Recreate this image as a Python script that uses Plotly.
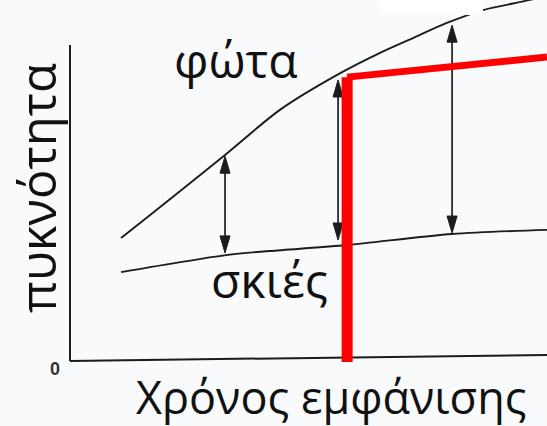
import plotly.graph_objects as go

# Conceptual data (time units 0..10, density units 0..10)
upper_t = [1.07, 1.68, 3.25, 4.40, 5.60, 6.50, 7.19, 7.90, 8.66, 9.64, 10.0]
upper_d = [3.87, 4.60, 6.51, 7.94, 9.05, 9.75, 10.22, 10.70, 11.11, 11.43, 11.59]
lower_t = [1.07, 3.27, 4.19, 5.81, 8.01, 10.0]
lower_d = [2.79, 3.33, 3.46, 3.65, 4.00, 4.13]
arrow_t = [3.25, 5.62, 8.01]
arrow_top = [6.47, 8.89, 10.63]
arrow_bottom = [3.40, 3.81, 4.03]
red_v_t = [5.81, 5.81]
red_v_d = [-0.06, 8.98]
red_h_t = [5.81, 10.0]
red_h_d = [8.98, 9.62]
axis_x_t = [0.0, 10.0]
axis_x_d = [-0.03, 0.16]
axis_y_t = [0.0, 0.0]
axis_y_d = [-0.03, 10.0]

W, H = 547, 426
ink = "#1c1c1c"
font = "Open Sans"
HEAD_LEN = 0.54   # density units
HEAD_HALF = 0.105  # time units

fig = go.Figure()
fig.add_trace(go.Scatter(x=axis_y_t, y=axis_y_d, mode="lines",
                         line=dict(color=ink, width=2), hoverinfo="skip"))
fig.add_trace(go.Scatter(x=axis_x_t, y=axis_x_d, mode="lines",
                         line=dict(color=ink, width=2), hoverinfo="skip"))
fig.add_trace(go.Scatter(x=upper_t, y=upper_d, mode="lines",
                         line=dict(color=ink, width=1.9, shape="spline", smoothing=0.8),
                         hoverinfo="skip"))
fig.add_trace(go.Scatter(x=lower_t, y=lower_d, mode="lines",
                         line=dict(color=ink, width=1.9, shape="spline", smoothing=0.8),
                         hoverinfo="skip"))

# double-headed arrows: shafts and heads
sx, sy = [], []
hx, hy = [], []
for t, top, bot in zip(arrow_t, arrow_top, arrow_bottom):
    sx += [t, t, None]
    sy += [bot + HEAD_LEN * 0.8, top - HEAD_LEN * 0.8, None]
    hx += [t, t - HEAD_HALF, t + HEAD_HALF, t, None]
    hy += [top, top - HEAD_LEN, top - HEAD_LEN, top, None]
    hx += [t, t - HEAD_HALF, t + HEAD_HALF, t, None]
    hy += [bot, bot + HEAD_LEN, bot + HEAD_LEN, bot, None]
fig.add_trace(go.Scatter(x=sx, y=sy, mode="lines", line=dict(color="#2a2a2a", width=1.8),
                         hoverinfo="skip"))
fig.add_trace(go.Scatter(x=hx, y=hy, mode="lines", fill="toself", fillcolor="#1c1c1c",
                         line=dict(color="#1c1c1c", width=1), hoverinfo="skip"))

fig.add_trace(go.Scatter(x=red_h_t, y=red_h_d, mode="lines",
                         line=dict(color="#ff0000", width=7), hoverinfo="skip"))
fig.add_trace(go.Scatter(x=red_v_t, y=red_v_d, mode="lines",
                         line=dict(color="#ff0000", width=11), hoverinfo="skip"))


def px(x):
    return x / W


def py(y):
    return 1 - y / H


fig.add_annotation(x=px(236), y=py(59), xref="paper", yref="paper", text="φώτα",
                   showarrow=False, font=dict(family=font, size=48, color="#111"),
                   xanchor="center", yanchor="middle")
fig.add_annotation(x=px(269), y=py(279), xref="paper", yref="paper", text="σκιές",
                   showarrow=False, font=dict(family=font, size=48, color="#111"),
                   xanchor="center", yanchor="middle")
fig.add_annotation(x=px(331), y=py(396), xref="paper", yref="paper",
                   text="Χρόνος εμφάνισης", showarrow=False,
                   font=dict(family=font, size=45, color="#111"),
                   xanchor="center", yanchor="middle")
fig.add_annotation(x=px(37), y=py(188), xref="paper", yref="paper", text="πυκνότητα",
                   textangle=-90, showarrow=False,
                   font=dict(family=font, size=49, color="#111"),
                   xanchor="center", yanchor="middle")
fig.add_annotation(x=px(55), y=py(369), xref="paper", yref="paper", text="<b>0</b>",
                   showarrow=False, font=dict(family="Liberation Sans", size=18, color="#333"),
                   xanchor="center", yanchor="middle")

fig.add_shape(type="rect", xref="paper", yref="paper", x0=px(380), x1=px(483),
              y0=py(15), y1=1, fillcolor="white", line=dict(width=0), layer="above")

fig.update_layout(
    width=W, height=H, margin=dict(l=0, r=0, t=0, b=0),
    paper_bgcolor="#f8fafc", plot_bgcolor="#f8fafc", showlegend=False,
    xaxis=dict(range=[-70 / 47.7, 477 / 47.7], visible=False, fixedrange=True),
    yaxis=dict(range=[-66 / 31.5, 360 / 31.5], visible=False, fixedrange=True),
)
fig.write_html("out.html", config={"displayModeBar": False},
               post_script="document.body.style.margin='0';document.body.style.background='#f8fafc';")
